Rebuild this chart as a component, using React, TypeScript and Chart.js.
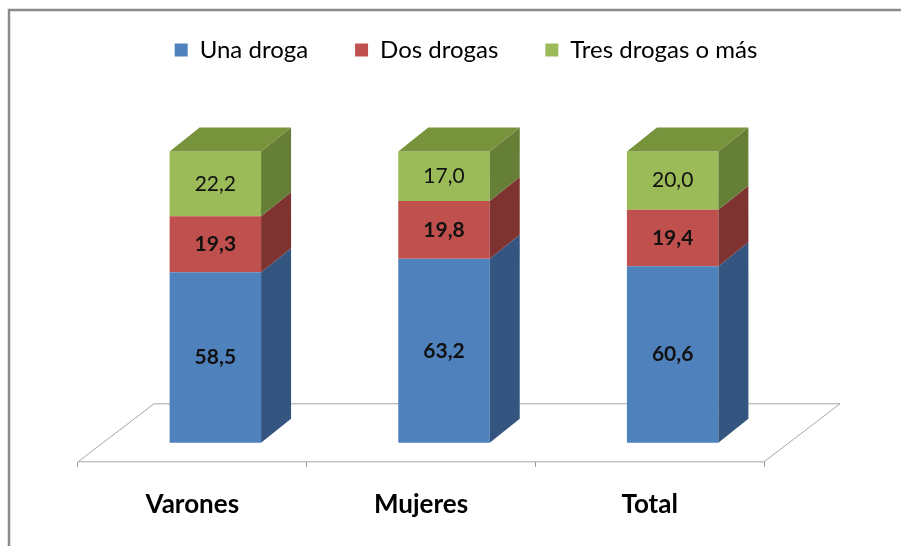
import React, { useEffect, useRef } from "react";
import { Chart, registerables } from "chart.js";

Chart.register(...registerables);

const categories = ["Varones", "Mujeres", "Total"];
const unaDroga = [58.5, 63.2, 60.6];
const dosDrogas = [19.3, 19.8, 19.4];
const tresDrogas = [22.2, 17.0, 20.0];
const seriesNames = ["Una droga", "Dos drogas", "Tres drogas o más"];

const FRONT = ["#4F81BD", "#C0504D", "#9BBB59"];
const SIDE = ["#34557F", "#7E3331", "#667F37"];
const TOP = ["#3E6597", "#9A3E3C", "#77933C"];

const SHIFT_X = 23;
const SHIFT_Y = -19;
const DEPTH_X = 30;
const DEPTH_Y = -24;
const FLOOR_DX = 76;
const FLOOR_DY = -58;

const fmt = (v: number) => v.toFixed(1).replace(".", ",");

const threeD = {
  id: "threeD",
  beforeDraw(chart: any) {
    const ctx = chart.ctx;
    ctx.save();
    ctx.fillStyle = "#ffffff";
    ctx.fillRect(0, 0, chart.width, chart.height);
    ctx.strokeStyle = "#8a8a8a";
    ctx.lineWidth = 2.5;
    ctx.beginPath();
    ctx.moveTo(9, chart.height);
    ctx.lineTo(9, 10);
    ctx.lineTo(chart.width, 10);
    ctx.stroke();
    ctx.restore();
  },
  beforeDatasetsDraw(chart: any) {
    const ctx = chart.ctx;
    const a = chart.chartArea;
    ctx.save();
    ctx.strokeStyle = "#a6a6a6";
    ctx.lineWidth = 1;
    ctx.fillStyle = "#ffffff";
    ctx.beginPath();
    ctx.moveTo(a.left, a.bottom);
    ctx.lineTo(a.right, a.bottom);
    ctx.lineTo(a.right + FLOOR_DX, a.bottom + FLOOR_DY);
    ctx.lineTo(a.left + FLOOR_DX, a.bottom + FLOOR_DY);
    ctx.closePath();
    ctx.fill();
    ctx.stroke();
    ctx.restore();
    ctx.save();
    ctx.translate(SHIFT_X, SHIFT_Y);
  },
  afterDatasetsDraw(chart: any) {
    const ctx = chart.ctx;
    const n = chart.data.datasets.length;
    for (let d = 0; d < n; d++) {
      const meta = chart.getDatasetMeta(d);
      meta.data.forEach((bar: any) => {
        const p = bar.getProps(["x", "y", "base", "width"], true);
        const left = p.x - p.width / 2;
        const right = p.x + p.width / 2;
        ctx.fillStyle = SIDE[d];
        ctx.beginPath();
        ctx.moveTo(right, p.y);
        ctx.lineTo(right + DEPTH_X, p.y + DEPTH_Y);
        ctx.lineTo(right + DEPTH_X, p.base + DEPTH_Y);
        ctx.lineTo(right, p.base);
        ctx.closePath();
        ctx.fill();
        if (d === n - 1) {
          ctx.fillStyle = TOP[d];
          ctx.beginPath();
          ctx.moveTo(left, p.y);
          ctx.lineTo(left + DEPTH_X, p.y + DEPTH_Y);
          ctx.lineTo(right + DEPTH_X, p.y + DEPTH_Y);
          ctx.lineTo(right, p.y);
          ctx.closePath();
          ctx.fill();
        }
      });
    }
    for (let d = 0; d < n; d++) {
      const meta = chart.getDatasetMeta(d);
      const vals = chart.data.datasets[d].data;
      meta.data.forEach((bar: any, i: number) => {
        const p = bar.getProps(["x", "y", "base"], true);
        ctx.fillStyle = "#111111";
        ctx.font = (d < 2 ? "bold " : "") + "21px Lato";
        ctx.textAlign = "center";
        ctx.textBaseline = "middle";
        ctx.fillText(fmt(vals[i]), p.x, (p.y + p.base) / 2);
      });
    }
    ctx.restore();
  },
};

export default function App() {
  const ref = useRef<HTMLCanvasElement>(null);
  useEffect(() => {
    const chart = new Chart(ref.current!, {
      type: "bar",
      data: {
        labels: categories,
        datasets: [
          { label: seriesNames[0], data: unaDroga, backgroundColor: FRONT[0] },
          { label: seriesNames[1], data: dosDrogas, backgroundColor: FRONT[1] },
          { label: seriesNames[2], data: tresDrogas, backgroundColor: FRONT[2] },
        ].map((ds) => ({ ...ds, borderWidth: 0, barPercentage: 0.4, categoryPercentage: 1, clip: false as any })),
      },
      options: {
        responsive: false,
        animation: false,
        layout: { padding: { left: 78, right: 47, top: -9, bottom: 4 } },
        plugins: {
          legend: {
            position: "top",
            align: "center",
            labels: {
              boxWidth: 13,
              boxHeight: 13,
              padding: 47,
              color: "#000000",
              font: { family: "Lato", size: 24 },
            },
          },
          tooltip: { enabled: false },
        },
        scales: {
          x: {
            stacked: true,
            grid: { display: true, drawOnChartArea: false, drawTicks: true, tickLength: 5, color: "#9a9a9a", offset: true },
            border: { display: false },
            ticks: { color: "#000000", padding: 22, font: { family: "Lato", size: 26, weight: "bold" } },
          },
          y: { stacked: true, display: false, min: 0, max: 133.8 },
          y2: {
            type: "linear",
            position: "right",
            display: true,
            grid: { display: false },
            border: { display: false },
            ticks: { display: false },
            afterFit: (s: any) => {
              s.width = 90;
            },
          },
        },
      },
      plugins: [threeD],
    });
    return () => chart.destroy();
  }, []);
  return (
    <div style={{ position: "fixed", left: 0, top: 0, width: 901, height: 546 }}>
      <canvas ref={ref} width={901} height={546} style={{ display: "block" }} />
    </div>
  );
}
